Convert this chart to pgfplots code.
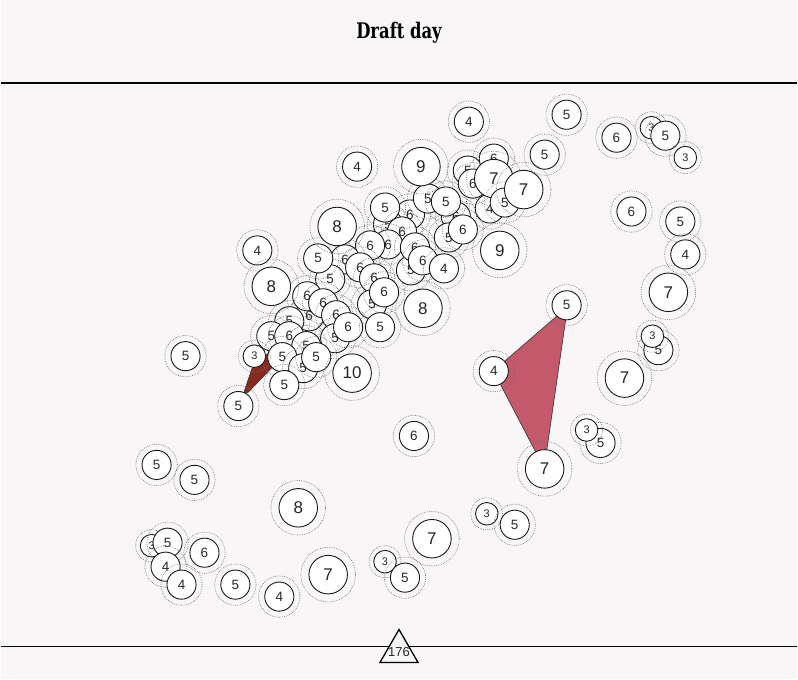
\documentclass[border=0pt]{standalone}
\usepackage{fontspec}
\setmainfont{Liberation Sans}
\newfontfamily\titlefont{DejaVu Serif Condensed}
\usepackage{pgfplots}
\pgfplotsset{compat=1.18}
\usepackage{pgfplotstable}

\definecolor{bgcol}{RGB}{248,246,247}
\definecolor{ringcol}{RGB}{110,110,110}
\definecolor{pinkfill}{RGB}{196,89,107}
\definecolor{brownfill}{RGB}{136,43,30}

% player circles: position (px) and value, in drawing order
\pgfplotstableread{
x y v
469 122 4
567 115 5
617 138 6
652 128 3
666 136 5
686 158 3
545 155 5
357 167 4
632 212 6
681 222 5
686 255 4
669 293 7
567 306 5
659 351 5
653 337 3
625 379 7
494 372 4
545 470 7
601 444 5
587 431 3
487 515 3
515 526 5
414 437 6
185 357 5
156 466 5
194 481 5
298 509 8
151 547 3
167 544 5
204 554 6
165 568 4
181 586 4
235 586 5
279 598 4
328 576 7
385 563 3
405 579 5
432 540 7
410 215 6
388 225 5
385 208 5
456 217 6
449 238 5
490 209 4
468 171 5
473 184 6
494 159 6
494 179 7
428 199 5
446 202 5
505 203 5
524 190 7
402 232 6
463 230 6
388 245 6
411 271 5
370 246 6
415 248 6
423 261 6
444 269 4
345 260 6
330 280 5
318 259 5
360 268 6
374 279 6
372 305 5
384 293 6
309 317 6
307 297 6
323 304 6
336 316 6
335 339 5
348 328 6
380 328 5
289 322 5
271 337 5
289 337 6
306 347 5
282 358 5
303 369 5
316 358 5
284 386 5
352 374 10
254 357 3
238 407 5
337 227 8
257 251 4
271 287 8
423 309 8
421 167 9
500 251 9
}\players

\begin{document}
\begin{tikzpicture}
\begin{axis}[
  width=798pt, height=681pt, scale only axis,
  xmin=0, xmax=798, ymin=0, ymax=681, y dir=reverse,
  hide axis, clip=false,
]
\addplot[fill=bgcol, draw=none] coordinates {(0,0) (798,0) (798,681) (0,681)} -- cycle;
\addplot[black, line width=1.9pt] coordinates {(0,83) (798,83)};
\addplot[black, line width=1.9pt] coordinates {(0,648) (798,648)};

\addplot[fill=brownfill, draw=black!80, line width=0.6pt]
  coordinates {(251.7,369) (268,354) (272,368) (248,393) (243,395)} -- cycle;
\addplot[fill=pinkfill, draw=black!80, line width=0.6pt]
  coordinates {(505,362) (557,317) (566,321) (547,452) (536,453) (501,386)} -- cycle;

\addplot[scatter, only marks, mark=*, black,
  point meta=explicit symbolic,
  scatter/@pre marker code/.code={%
    \edef\val{\pgfplotspointmeta}%
    \pgfmathsetmacro\rad{\val<3.5 ? 11.3 : (\val<6.5 ? 14.6 : 19.3)}%
    \pgfmathsetmacro\fs{\val<3.5 ? 11 : (\val<6.5 ? 13.5 : 17)}%
    \draw[draw=ringcol, fill=none, dash pattern=on 0.7pt off 1.1pt, line width=0.6pt] (0pt,0pt) circle[radius=1.42*\rad pt];
    \scope[mark size=\rad pt, fill=white, draw=black!90, line width=0.9pt]
  },
  scatter/@post marker code/.code={%
    \endscope
    \node[text=black!85, inner sep=0pt, font=\fontsize{\fs}{\fs}\selectfont] at (0pt,0pt) {\val};
  },
] table[x=x, y=y, meta=v] {\players};

\addplot[scatter, only marks, mark=triangle*,
  scatter/@pre marker code/.code={\scope[mark size=22pt, fill=bgcol, draw=black, line width=1.3pt]},
  scatter/@post marker code/.code={\endscope
    \node[text=black!85, inner sep=0pt, font=\fontsize{13}{13}\selectfont] at (0pt,-1pt) {176};},
] coordinates {(399,653)};

\node[font=\titlefont\bfseries\fontsize{21.5}{21.5}\selectfont, xscale=0.85] at (axis cs:399,33) {Draft day};
\end{axis}
\end{tikzpicture}
\end{document}
